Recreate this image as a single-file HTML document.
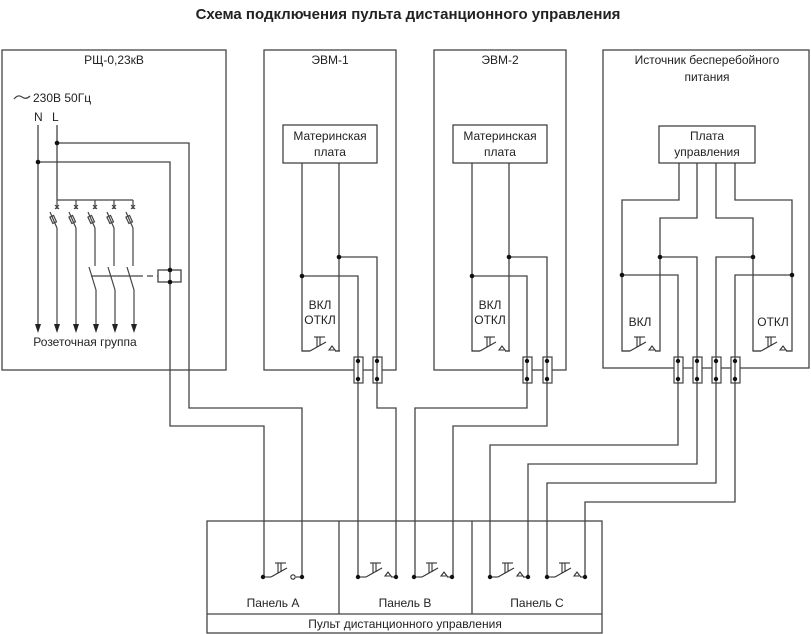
<!DOCTYPE html>
<html><head><meta charset="utf-8"><style>
html,body{margin:0;padding:0;background:#fff;}
svg{display:block;}
text{font-family:"Liberation Sans",sans-serif;font-size:12px;fill:#222;}
</style></head><body>
<svg width="811" height="634" viewBox="0 0 811 634" xmlns="http://www.w3.org/2000/svg">
<defs>
<g id="btn">
 <line x1="0" y1="0" x2="8" y2="0"/>
 <line x1="8" y1="0" x2="24" y2="-9"/>
 <line x1="12" y1="-14" x2="23" y2="-14"/>
 <line x1="15" y1="-14" x2="15" y2="-4"/>
 <line x1="18" y1="-14" x2="18" y2="-5"/>
 <path d="M27 -1 L30 -5 L33 -1 Z" fill="none"/>
 <line x1="33" y1="0" x2="38" y2="0"/>
</g>
</defs>
<g stroke="#444" stroke-width="1.3" fill="none">
<rect x="2" y="50" width="224" height="320"/>
<rect x="264" y="50" width="132" height="320"/>
<rect x="434" y="50" width="132" height="320"/>
<rect x="603" y="50" width="206" height="318"/>
<rect x="283" y="125" width="94" height="38"/>
<rect x="453" y="125" width="94" height="38"/>
<rect x="659" y="126" width="96" height="37"/>
<path d="M14 99 q4 -5 8 -2 q4 3 8 -1"/>
<line x1="38" y1="125" x2="38" y2="325"/>
<line x1="57" y1="125" x2="57" y2="200"/>
<polyline points="57,143 189,143 189,408 302,408 302,577"/>
<polyline points="38,162 170,162 170,426 264,426 264,577"/>
<line x1="57" y1="200" x2="133" y2="200"/>
<rect x="158" y="270" width="23" height="12"/>
<line x1="91" y1="276" x2="137" y2="276"/>
<line x1="137" y1="276" x2="158" y2="276" stroke-dasharray="6,4"/>
</g>
<g stroke="#444" stroke-width="1.2" fill="none">
<g transform="translate(57,0)"><line x1="0" y1="200" x2="0" y2="209"/><path d="M-2 205 l4 4 M2 205 l-4 4"/><line x1="-7" y1="212" x2="0" y2="228"/><rect x="-6" y="216" width="4" height="7" transform="rotate(-25 -4 219)"/><line x1="0" y1="228" x2="0" y2="325"/></g>
<g transform="translate(76,0)"><line x1="0" y1="200" x2="0" y2="209"/><path d="M-2 205 l4 4 M2 205 l-4 4"/><line x1="-7" y1="212" x2="0" y2="228"/><rect x="-6" y="216" width="4" height="7" transform="rotate(-25 -4 219)"/><line x1="0" y1="228" x2="0" y2="325"/></g>
<g transform="translate(95,0)"><line x1="0" y1="200" x2="0" y2="209"/><path d="M-2 205 l4 4 M2 205 l-4 4"/><line x1="-7" y1="212" x2="0" y2="228"/><rect x="-6" y="216" width="4" height="7" transform="rotate(-25 -4 219)"/><line x1="0" y1="228" x2="0" y2="266"/><line x1="-6" y1="267" x2="1" y2="290"/><line x1="1" y1="290" x2="1" y2="325"/></g>
<g transform="translate(114,0)"><line x1="0" y1="200" x2="0" y2="209"/><path d="M-2 205 l4 4 M2 205 l-4 4"/><line x1="-7" y1="212" x2="0" y2="228"/><rect x="-6" y="216" width="4" height="7" transform="rotate(-25 -4 219)"/><line x1="0" y1="228" x2="0" y2="266"/><line x1="-6" y1="267" x2="1" y2="290"/><line x1="1" y1="290" x2="1" y2="325"/></g>
<g transform="translate(133,0)"><line x1="0" y1="200" x2="0" y2="209"/><path d="M-2 205 l4 4 M2 205 l-4 4"/><line x1="-7" y1="212" x2="0" y2="228"/><rect x="-6" y="216" width="4" height="7" transform="rotate(-25 -4 219)"/><line x1="0" y1="228" x2="0" y2="266"/><line x1="-6" y1="267" x2="1" y2="290"/><line x1="1" y1="290" x2="1" y2="325"/></g>
</g>
<g fill="#222" stroke="none">
<path d="M35 324 L41 324 L38 333 Z"/><path d="M54 324 L60 324 L57 333 Z"/><path d="M73 324 L79 324 L76 333 Z"/>
<path d="M93 324 L99 324 L96 333 Z"/><path d="M112 324 L118 324 L115 333 Z"/><path d="M131 324 L137 324 L134 333 Z"/>
</g>
<g stroke="#444" stroke-width="1.3" fill="none">
<polyline points="302,163 302,351 310,351"/>
<polyline points="339,163 339,351 335,351"/>
<polyline points="302,276 358,276 358,577"/>
<polyline points="339,257 377,257 377,408 396,408 396,577"/>
<polyline points="472,163 472,351 480,351"/>
<polyline points="509,163 509,351 505,351"/>
<polyline points="472,276 527,276 527,408 415,408 415,577"/>
<polyline points="509,257 547,257 547,426 453,426 453,577"/>
<polyline points="679,163 679,200 622,200 622,351 630,351"/>
<polyline points="697,163 697,218 660,218 660,351 655,351"/>
<polyline points="716,163 716,218 753,218 753,351 761,351"/>
<polyline points="735,163 735,200 792,200 792,351 786,351"/>
<polyline points="622,275 678,275 678,445 490,445 490,577"/>
<polyline points="660,257 697,257 697,464 528,464 528,577"/>
<polyline points="753,257 716,257 716,483 547,483 547,577"/>
<polyline points="792,275 735,275 735,502 585,502 585,577"/>
<rect x="207" y="521" width="395" height="112"/>
<line x1="207" y1="614" x2="602" y2="614"/>
<line x1="339" y1="521" x2="339" y2="614"/>
<line x1="472" y1="521" x2="472" y2="614"/>
</g>
<g stroke="#444" stroke-width="1.2" fill="#fff">
<rect x="354" y="357" width="9" height="26"/><rect x="373" y="357" width="9" height="26"/>
<rect x="523" y="357" width="9" height="26"/><rect x="543" y="357" width="9" height="26"/>
<rect x="674" y="357" width="9" height="26"/><rect x="693" y="357" width="9" height="26"/>
<rect x="712" y="357" width="9" height="26"/><rect x="731" y="357" width="9" height="26"/>
</g>
<g stroke="#444" stroke-width="1.2">
<line x1="358" y1="357" x2="358" y2="383"/><line x1="377" y1="357" x2="377" y2="383"/>
<line x1="527" y1="357" x2="527" y2="383"/><line x1="547" y1="357" x2="547" y2="383"/>
<line x1="678" y1="357" x2="678" y2="383"/><line x1="697" y1="357" x2="697" y2="383"/>
<line x1="716" y1="357" x2="716" y2="383"/><line x1="735" y1="357" x2="735" y2="383"/>
</g>
<g stroke="#333" stroke-width="1.1" fill="none">
<use href="#btn" x="302" y="351"/>
<use href="#btn" x="472" y="351"/>
<use href="#btn" x="622" y="351"/>
<use href="#btn" x="753" y="351"/>
<g transform="translate(263,577)"><line x1="0" y1="0" x2="8" y2="0"/><line x1="8" y1="0" x2="24" y2="-9"/><line x1="12" y1="-14" x2="23" y2="-14"/><line x1="15" y1="-14" x2="15" y2="-4"/><line x1="18" y1="-14" x2="18" y2="-5"/><circle cx="30" cy="0" r="2.2"/><line x1="33" y1="0" x2="39" y2="0"/></g>
<use href="#btn" x="358" y="577"/>
<use href="#btn" x="414" y="577"/>
<use href="#btn" x="490" y="577"/>
<use href="#btn" x="547" y="577"/>
</g>
<g fill="#111">
<circle cx="57" cy="143" r="2.3"/><circle cx="38" cy="162" r="2.3"/>
<circle cx="170" cy="270" r="2.3"/><circle cx="170" cy="282" r="2.3"/>
<circle cx="302" cy="276" r="2.3"/><circle cx="339" cy="257" r="2.3"/>
<circle cx="472" cy="276" r="2.3"/><circle cx="509" cy="257" r="2.3"/>
<circle cx="622" cy="275" r="2.3"/><circle cx="660" cy="257" r="2.3"/>
<circle cx="753" cy="257" r="2.3"/><circle cx="792" cy="275" r="2.3"/>
<circle cx="358" cy="361" r="2.2"/><circle cx="358" cy="379" r="2.2"/><circle cx="377" cy="361" r="2.2"/><circle cx="377" cy="379" r="2.2"/>
<circle cx="527" cy="361" r="2.2"/><circle cx="527" cy="379" r="2.2"/><circle cx="547" cy="361" r="2.2"/><circle cx="547" cy="379" r="2.2"/>
<circle cx="678" cy="361" r="2.2"/><circle cx="678" cy="379" r="2.2"/><circle cx="697" cy="361" r="2.2"/><circle cx="697" cy="379" r="2.2"/>
<circle cx="716" cy="361" r="2.2"/><circle cx="716" cy="379" r="2.2"/><circle cx="735" cy="361" r="2.2"/><circle cx="735" cy="379" r="2.2"/>
<circle cx="263" cy="577" r="2.2"/><circle cx="302" cy="577" r="2.2"/>
<circle cx="358" cy="577" r="2.2"/><circle cx="396" cy="577" r="2.2"/>
<circle cx="414" cy="577" r="2.2"/><circle cx="452" cy="577" r="2.2"/>
<circle cx="490" cy="577" r="2.2"/><circle cx="528" cy="577" r="2.2"/>
<circle cx="547" cy="577" r="2.2"/><circle cx="585" cy="577" r="2.2"/>
</g>
<text x="408" y="19" text-anchor="middle" style="font-weight:bold;font-size:15px">Схема подключения пульта дистанционного управления</text>
<text x="114" y="64" text-anchor="middle">РЩ-0,23кВ</text>
<text x="33" y="102">230В 50Гц</text>
<text x="34" y="121">N</text><text x="52" y="121">L</text>
<text x="85" y="346" text-anchor="middle">Розеточная группа</text>
<text x="330" y="64" text-anchor="middle">ЭВМ-1</text>
<text x="500" y="64" text-anchor="middle">ЭВМ-2</text>
<text x="707" y="64" text-anchor="middle">Источник бесперебойного</text>
<text x="707" y="81" text-anchor="middle">питания</text>
<text x="330" y="140" text-anchor="middle">Материнская</text>
<text x="330" y="156" text-anchor="middle">плата</text>
<text x="500" y="140" text-anchor="middle">Материнская</text>
<text x="500" y="156" text-anchor="middle">плата</text>
<text x="707" y="140" text-anchor="middle">Плата</text>
<text x="707" y="156" text-anchor="middle">управления</text>
<text x="320" y="309" text-anchor="middle">ВКЛ</text>
<text x="320" y="324" text-anchor="middle">ОТКЛ</text>
<text x="490" y="309" text-anchor="middle">ВКЛ</text>
<text x="490" y="324" text-anchor="middle">ОТКЛ</text>
<text x="640" y="326" text-anchor="middle">ВКЛ</text>
<text x="773" y="326" text-anchor="middle">ОТКЛ</text>
<text x="273" y="607" text-anchor="middle">Панель А</text>
<text x="405" y="607" text-anchor="middle">Панель В</text>
<text x="537" y="607" text-anchor="middle">Панель С</text>
<text x="405" y="628" text-anchor="middle">Пульт дистанционного управления</text>
</svg>
</body></html>
